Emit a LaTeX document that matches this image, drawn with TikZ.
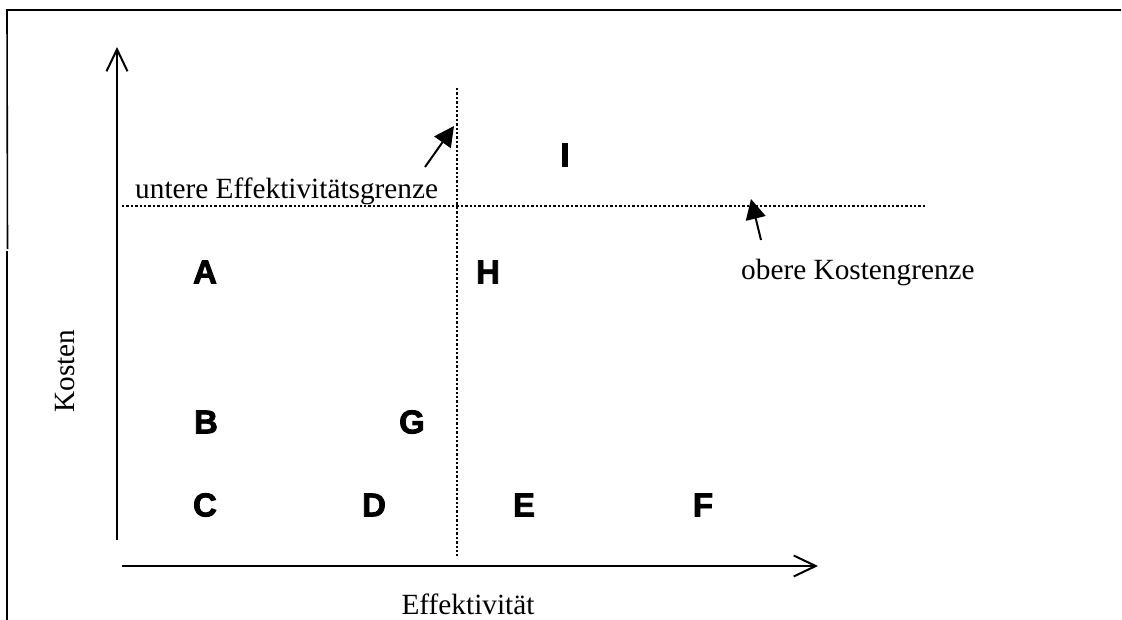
\documentclass[tikz,border=0pt]{standalone}
\usepackage{fontspec}
\setmainfont{Liberation Serif}
\newfontfamily\letterfont[BoldFeatures={FakeBold=2.5}]{Liberation Sans}
\usetikzlibrary{arrows.meta}
\tikzset{
  frameline/.style={line width=1.6pt},
  axisline/.style={line width=2pt,-{Straight Barb[length=22pt,width=21pt,line width=2pt]}},
  limitline/.style={line width=2.6pt,dash pattern=on 2.4pt off 2pt},
  pointer/.style={line width=2pt,-{Triangle[length=20pt,width=20pt]}},
  lab/.style={font=\fontsize{29.3}{34}\selectfont,inner sep=0pt},
  letter/.style={font=\letterfont\bfseries\fontsize{33}{36}\selectfont,inner sep=0pt}
}
\begin{document}
\begin{tikzpicture}[x=1pt,y=-1pt]
\useasboundingbox (0,0) rectangle (1122,620);
% frame
\coordinate (f1) at (7,10);
\coordinate (f2) at (1121,10);
\coordinate (f3) at (7.5,249);
\coordinate (f4) at (7,251);
\coordinate (f5) at (7,620);
\draw[frameline] (f3) -- (f1) -- (f2);
\draw[frameline] (f4) -- (f5);
% axes
\coordinate (yb) at (117,540);
\coordinate (yt) at (117,47);
\coordinate (xl) at (122,566);
\coordinate (xr) at (818,566);
\draw[axisline] (yb) -- (yt);
\draw[axisline] (xl) -- (xr);
% limit lines
\coordinate (v1) at (457,88);
\coordinate (v2) at (457,556);
\coordinate (h1) at (122,206);
\coordinate (h2) at (925,206);
\draw[limitline] (v1) -- (v2);
\draw[limitline] (h1) -- (h2);
% labels
\node[lab,anchor=base west] (ueg) at (135,199) {untere Effektivitätsgrenze};
\node[lab,anchor=west] (okg) at (741,272) {obere Kostengrenze};
\node[lab,anchor=base] (eff) at (468,614) {Effektivität};
\node[lab,rotate=90] (kos) at (65,371) {Kosten};
% pointers
\coordinate (p1s) at (425,167);
\coordinate (p1e) at (454,126);
\coordinate (p2s) at (761,240);
\coordinate (p2e) at (751,199);
\draw[pointer] (p1s) -- (p1e);
\draw[pointer] (p2s) -- (p2e);
% letters
\node[letter] (A) at (205,272) {A};
\node[letter] (H) at (488,272) {H};
\node[letter] (B) at (206,422) {B};
\node[letter] (G) at (412,422) {G};
\node[letter] (C) at (205,505) {C};
\node[letter] (D) at (374,505) {D};
\node[letter] (E) at (524,505) {E};
\node[letter] (F) at (703,505) {F};
\node[letter] (I) at (565,155) {I};
\end{tikzpicture}
\end{document}
